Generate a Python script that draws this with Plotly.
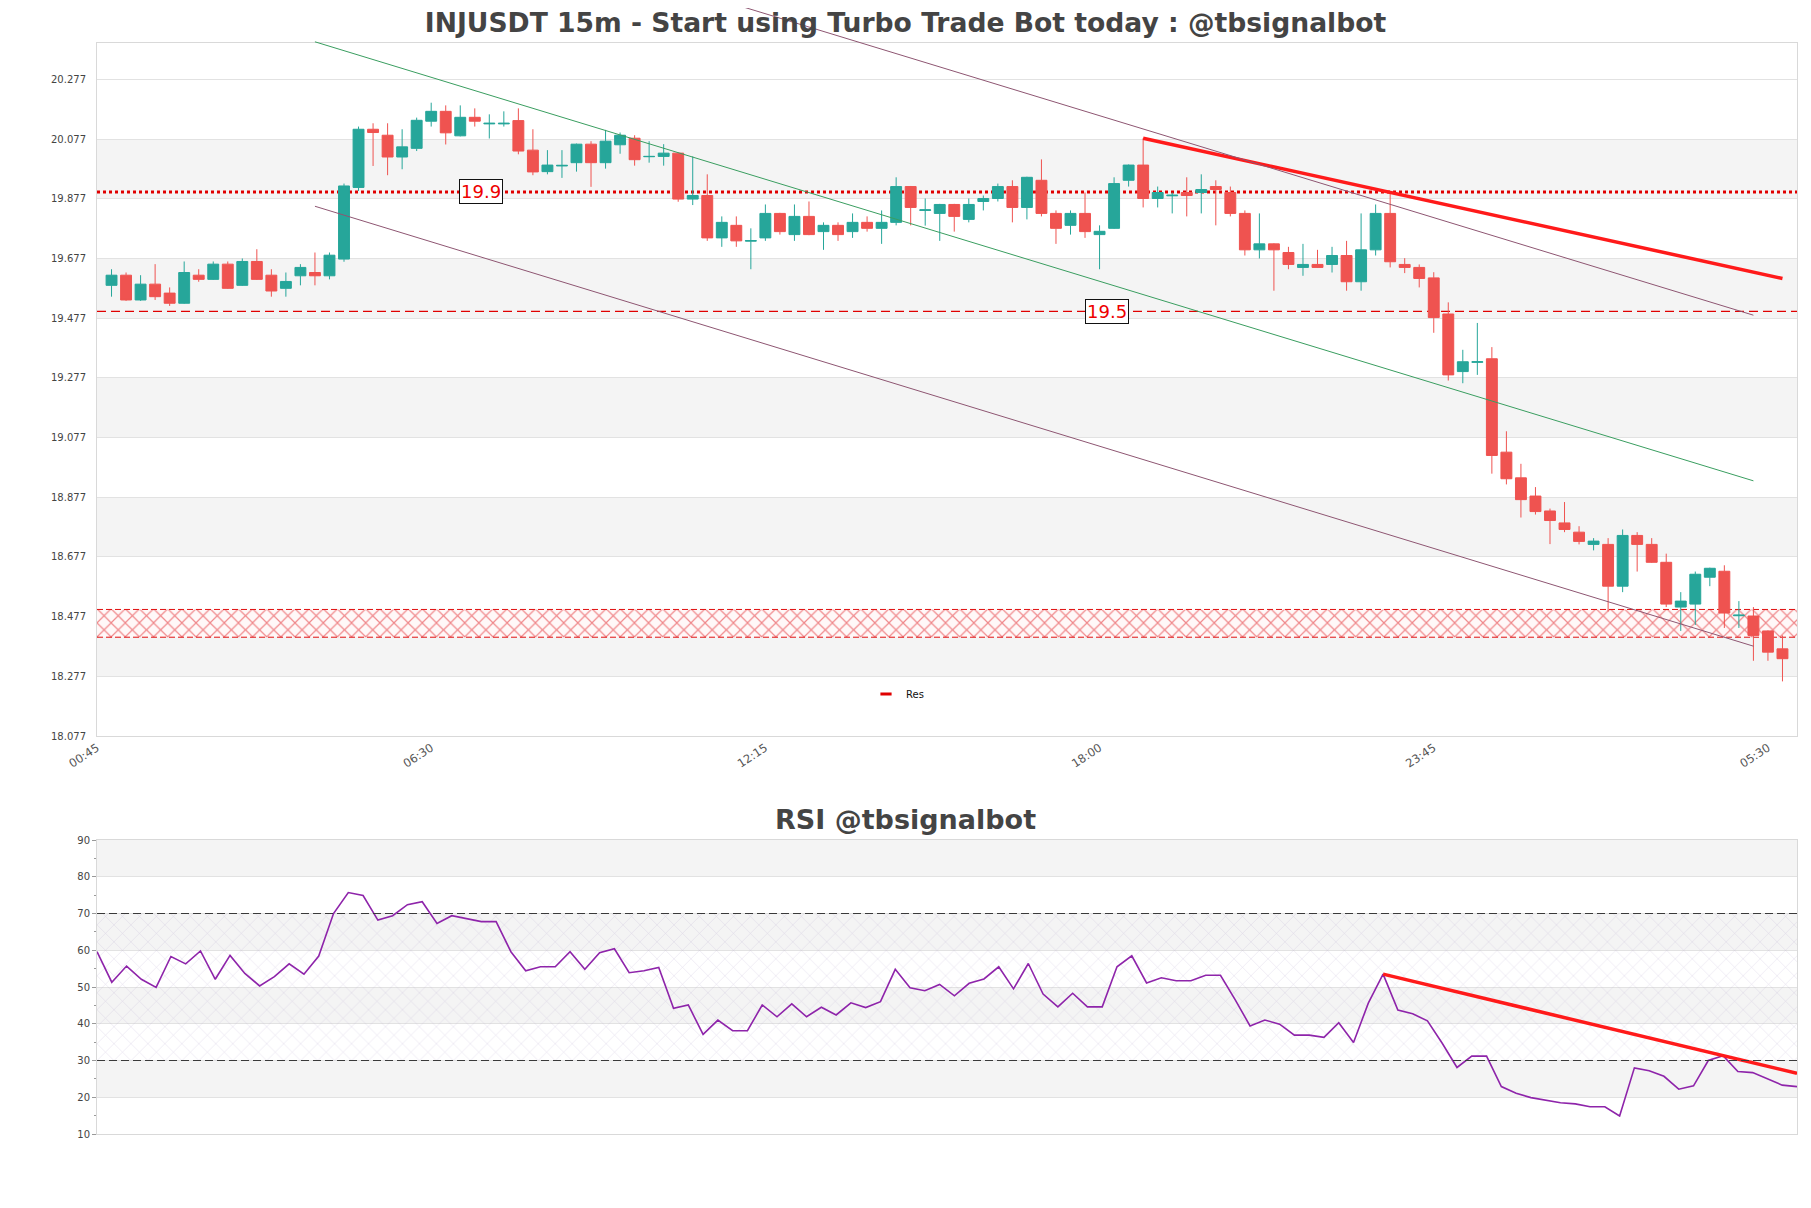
import pandas as pd
import plotly.graph_objects as go

W, H = 1811, 1208

# ---------------- data ----------------
t0 = pd.Timestamp("2024-01-01 01:00")
times = pd.date_range(t0, periods=116, freq="15min")

open_ = [19.587, 19.621, 19.538, 19.591, 19.561, 19.527, 19.621, 19.607, 19.658, 19.587,
         19.667, 19.621, 19.577, 19.619, 19.630, 19.619, 19.675, 19.915, 20.110, 20.090,
         20.017, 20.046, 20.137, 20.170, 20.088, 20.150, 20.128, 20.128, 20.139, 20.040,
         19.968, 19.987, 19.998, 20.060, 19.998, 20.058, 20.080, 20.018, 20.019, 20.030,
         19.876, 19.888, 19.746, 19.788, 19.735, 19.746, 19.828, 19.757, 19.818, 19.767,
         19.788, 19.767, 19.798, 19.778, 19.798, 19.918, 19.838, 19.828, 19.858, 19.808,
         19.868, 19.878, 19.918, 19.848, 19.939, 19.828, 19.788, 19.828, 19.757, 19.778,
         19.939, 19.990, 19.878, 19.887, 19.898, 19.898, 19.918, 19.898, 19.828, 19.706,
         19.726, 19.697, 19.647, 19.657, 19.657, 19.687, 19.599, 19.706, 19.828, 19.657,
         19.647, 19.612, 19.491, 19.298, 19.329, 19.341, 19.028, 18.942, 18.881, 18.831,
         18.791, 18.760, 18.719, 18.719, 18.579, 18.749, 18.719, 18.659, 18.509, 18.519,
         18.609, 18.629, 18.480, 18.479, 18.429, 18.369]
high = [19.641, 19.630, 19.621, 19.658, 19.580, 19.667, 19.641, 19.667, 19.667, 19.677,
        19.708, 19.641, 19.630, 19.658, 19.697, 19.697, 19.928, 20.119, 20.130, 20.130,
        20.110, 20.149, 20.199, 20.190, 20.190, 20.180, 20.160, 20.170, 20.180, 20.110,
        20.040, 20.040, 20.062, 20.070, 20.108, 20.099, 20.090, 20.070, 20.060, 20.032,
        20.019, 19.959, 19.818, 19.818, 19.778, 19.858, 19.830, 19.858, 19.868, 19.798,
        19.798, 19.828, 19.818, 19.838, 19.949, 19.920, 19.878, 19.860, 19.860, 19.878,
        19.888, 19.928, 19.939, 19.951, 20.009, 19.838, 19.838, 19.898, 19.788, 19.949,
        19.992, 20.080, 19.918, 19.898, 19.949, 19.959, 19.939, 19.918, 19.838, 19.828,
        19.728, 19.716, 19.726, 19.706, 19.716, 19.736, 19.828, 19.858, 19.898, 19.678,
        19.657, 19.631, 19.530, 19.371, 19.461, 19.380, 19.098, 18.989, 18.911, 18.839,
        18.861, 18.780, 18.740, 18.740, 18.769, 18.760, 18.740, 18.688, 18.559, 18.628,
        18.641, 18.649, 18.529, 18.509, 18.431, 18.414]
low = [19.549, 19.535, 19.535, 19.538, 19.518, 19.525, 19.599, 19.605, 19.575, 19.585,
       19.605, 19.549, 19.549, 19.587, 19.587, 19.607, 19.666, 19.903, 19.987, 19.956,
       19.976, 20.037, 20.119, 20.059, 20.086, 20.119, 20.079, 20.119, 20.026, 19.956,
       19.959, 19.947, 19.968, 19.917, 19.978, 20.028, 19.988, 19.998, 19.988, 19.867,
       19.856, 19.736, 19.716, 19.716, 19.641, 19.736, 19.757, 19.736, 19.755, 19.706,
       19.736, 19.746, 19.767, 19.726, 19.788, 19.788, 19.787, 19.736, 19.767, 19.798,
       19.838, 19.868, 19.798, 19.808, 19.818, 19.726, 19.757, 19.746, 19.641, 19.776,
       19.918, 19.848, 19.848, 19.828, 19.818, 19.828, 19.788, 19.818, 19.687, 19.677,
       19.569, 19.641, 19.619, 19.645, 19.630, 19.569, 19.569, 19.687, 19.647, 19.628,
       19.580, 19.428, 19.268, 19.259, 19.287, 18.956, 18.920, 18.809, 18.819, 18.720,
       18.760, 18.719, 18.699, 18.494, 18.559, 18.628, 18.657, 18.509, 18.429, 18.449,
       18.579, 18.439, 18.439, 18.329, 18.329, 18.260]
close = [19.621, 19.538, 19.591, 19.549, 19.527, 19.630, 19.607, 19.658, 19.577, 19.667,
         19.607, 19.568, 19.600, 19.647, 19.619, 19.688, 19.920, 20.110, 20.099, 20.017,
         20.051, 20.140, 20.170, 20.098, 20.150, 20.137, 20.130, 20.130, 20.037, 19.967,
         19.990, 19.989, 20.060, 19.998, 20.070, 20.090, 20.008, 20.019, 20.030, 19.876,
         19.888, 19.746, 19.798, 19.736, 19.737, 19.828, 19.767, 19.818, 19.757, 19.788,
         19.757, 19.798, 19.778, 19.798, 19.918, 19.848, 19.840, 19.858, 19.818, 19.858,
         19.878, 19.918, 19.848, 19.949, 19.828, 19.778, 19.828, 19.767, 19.768, 19.928,
         19.990, 19.878, 19.898, 19.889, 19.888, 19.908, 19.908, 19.828, 19.706, 19.726,
         19.706, 19.657, 19.657, 19.647, 19.687, 19.599, 19.706, 19.828, 19.666, 19.647,
         19.610, 19.479, 19.287, 19.331, 19.331, 19.017, 18.939, 18.869, 18.829, 18.799,
         18.769, 18.729, 18.730, 18.579, 18.749, 18.719, 18.659, 18.519, 18.529, 18.619,
         18.639, 18.489, 18.482, 18.414, 18.358, 18.336]

rsi = [59.6, 51.3, 55.7, 52.1, 49.9, 58.3, 56.3, 59.8, 52.1, 58.6,
       53.7, 50.3, 52.8, 56.3, 53.5, 58.4, 70.0, 75.7, 74.9, 68.2,
       69.4, 72.4, 73.2, 67.3, 69.4, 68.7, 67.8, 67.8, 59.6, 54.4,
       55.5, 55.5, 59.6, 54.8, 59.3, 60.4, 53.9, 54.4, 55.3, 44.2,
       45.1, 37.1, 41.0, 38.1, 38.1, 45.1, 41.9, 45.4, 41.9, 44.5,
       42.4, 45.7, 44.4, 46.0, 54.8, 49.8, 49.0, 50.7, 47.6, 51.0,
       52.2, 55.5, 49.5, 56.4, 48.1, 44.6, 48.3, 44.6, 44.6, 55.5,
       58.5, 51.1, 52.5, 51.7, 51.7, 53.2, 53.2, 46.5, 39.4, 41.0,
       39.9, 36.9, 36.9, 36.3, 40.3, 34.9, 45.6, 53.5, 43.7, 42.7,
       40.8, 34.7, 28.1, 31.2, 31.2, 22.9, 21.1, 19.9, 19.1, 18.5,
       18.2, 17.4, 17.4, 14.9, 28.0, 27.2, 25.7, 22.2, 23.1, 30.0,
       31.3, 27.0, 26.7, 24.9, 23.3, 22.9]

x_tick_pos = [-1, 22, 45, 68, 91, 114]          # candle slots
x_tick_labels = ["00:45", "06:30", "12:15", "18:00", "23:45", "05:30"]
y_tick_labels = ["18.077", "18.277", "18.477", "18.677", "18.877", "19.077",
                 "19.277", "19.477", "19.677", "19.877", "20.077", "20.277"]
y_top = 20.399

res_level = 19.9
sup_level = 19.5
level_labels = ["19.9", "19.5"]
level_label_pos = [25.4, 68.5]
zone_low, zone_high = 18.408, 18.501

green_pos, green_val = [14, 113], [20.403, 18.932]
lower_pos, lower_val = [14, 113], [19.852, 18.378]
upper_pos, upper_val = [43.46, 113], [20.520, 19.487]
trend_pos, trend_val = [71, 115], [20.080, 19.610]
rsi_trend_pos, rsi_trend_val = [87, 115], [53.5, 26.5]

rsi_ticks = [10, 20, 30, 40, 50, 60, 70, 80, 90]
rsi_bands = [(20, 30), (40, 50), (60, 70), (80, 90)]

# ---------------- helpers ----------------
def at(pos):
    return t0 + pd.Timedelta(minutes=15 * pos)

FONT = "DejaVu Sans"
UP, DOWN = "#26a69a", "#ef5350"
OFF = 8  # page body margin

def px(v):
    return (v - OFF) / W

def py(v):
    return 1 - (v - OFF) / H

xdom = [px(97), px(1797)]
ydom_main = [py(736), py(43)]
ydom_rsi = [py(1134), py(840)]
y_vals = [float(v) for v in y_tick_labels]
y_lo = y_vals[0]
per_paper = (y_top - y_lo) / (ydom_main[1] - ydom_main[0])
y3_top = y_top + (1 - ydom_main[1]) * per_paper

xr_main = [at(-1), at(116)]
xr_rsi = [times[0], times[-1]]

fig = go.Figure()

# hatched support zone (base subplot, under the candles)
fig.add_trace(go.Scatter(x=xr_main, y=[zone_low, zone_low], mode="lines",
                         line=dict(color="#e01010", width=1, dash="6px,3px"),
                         showlegend=False, hoverinfo="skip", xaxis="x", yaxis="y"))
fig.add_trace(go.Scatter(x=xr_main, y=[zone_high, zone_high], mode="lines",
                         line=dict(color="#e01010", width=1, dash="6px,3px"),
                         fill="tonexty", fillcolor="rgba(255,248,248,1)",
                         fillpattern=dict(shape="x", fgcolor="#e0161c", bgcolor="rgba(255,248,248,1)",
                                          size=10, solidity=0.22),
                         showlegend=False, hoverinfo="skip", xaxis="x", yaxis="y"))

# candles on an overlaying axis so they sit above the zone
fig.add_trace(go.Candlestick(
    x=times, open=open_, high=high, low=low, close=close,
    increasing=dict(line=dict(color=UP, width=1), fillcolor=UP),
    decreasing=dict(line=dict(color=DOWN, width=1), fillcolor=DOWN),
    whiskerwidth=0, showlegend=False, xaxis="x", yaxis="y4", hoverinfo="skip"))

# red falling trendline
fig.add_trace(go.Scatter(x=[at(p) for p in trend_pos], y=trend_val, mode="lines",
                         line=dict(color="#ff1a1a", width=3.5), showlegend=False,
                         hoverinfo="skip", xaxis="x", yaxis="y4"))

# channel lines (unclipped helper axes)
for pos, val, col in [(green_pos, green_val, "#3a9e60"),
                      (lower_pos, lower_val, "#8e5672"),
                      (upper_pos, upper_val, "#8e5672")]:
    fig.add_trace(go.Scatter(x=[at(p) for p in pos], y=val, mode="lines",
                             line=dict(color=col, width=1), showlegend=False,
                             hoverinfo="skip", xaxis="x3", yaxis="y3"))

# legend entry
fig.add_trace(go.Scatter(x=[None], y=[None], mode="markers", name="Res",
                         marker=dict(symbol="line-ew", size=8, color="#e00000",
                                     line=dict(width=3, color="#e00000")),
                         xaxis="x", yaxis="y"))

# RSI hatch 30-70
fig.add_trace(go.Scatter(x=xr_rsi, y=[30, 30], mode="lines", line=dict(width=0),
                         showlegend=False, hoverinfo="skip", xaxis="x2", yaxis="y2"))
fig.add_trace(go.Scatter(x=xr_rsi, y=[70, 70], mode="lines", line=dict(width=0),
                         fill="tonexty", fillcolor="rgba(0,0,0,0)",
                         fillpattern=dict(shape="x", fgcolor="rgba(170,150,195,0.8)",
                                          size=12, solidity=0.07),
                         showlegend=False, hoverinfo="skip", xaxis="x2", yaxis="y2"))
fig.add_trace(go.Scatter(x=times, y=rsi, mode="lines", line=dict(color="#8e24aa", width=1.6),
                         showlegend=False, hoverinfo="skip", xaxis="x2", yaxis="y2"))
fig.add_trace(go.Scatter(x=[times[p] for p in rsi_trend_pos], y=rsi_trend_val, mode="lines",
                         line=dict(color="#ff1a1a", width=3.5), showlegend=False,
                         hoverinfo="skip", xaxis="x2", yaxis="y2"))

shapes = []
for k in range(1, len(y_vals) - 1, 2):
    shapes.append(dict(type="rect", xref="x domain", yref="y", x0=0, x1=1,
                       y0=y_vals[k], y1=y_vals[k + 1], fillcolor="#f4f4f4",
                       line=dict(width=0), layer="below"))
for b0, b1 in rsi_bands:
    shapes.append(dict(type="rect", xref="x2 domain", yref="y2", x0=0, x1=1,
                       y0=b0, y1=b1, fillcolor="#f4f4f4", line=dict(width=0), layer="below"))
shapes.append(dict(type="line", xref="x domain", yref="y", x0=0, x1=1, y0=res_level, y1=res_level,
                   line=dict(color="#e00000", width=3, dash="dot"), layer="below"))
shapes.append(dict(type="line", xref="x domain", yref="y", x0=0, x1=1, y0=sup_level, y1=sup_level,
                   line=dict(color="#e00000", width=1.3, dash="9px,5px"), layer="below"))
for lv in (70, 30):
    shapes.append(dict(type="line", xref="x2 domain", yref="y2", x0=0, x1=1, y0=lv, y1=lv,
                       line=dict(color="#3a3a3a", width=1, dash="8px,4px")))

annotations = []
for txt, p, lv in zip(level_labels, level_label_pos, [res_level, sup_level]):
    annotations.append(dict(x=at(p), y=lv, xref="x", yref="y", text=txt, showarrow=False,
                            font=dict(family=FONT, size=18, color="#ee0000"),
                            bgcolor="white", bordercolor="#111", borderwidth=1, borderpad=1))
annotations.append(dict(x=0.5 - OFF / W, y=py(819), xref="paper", yref="paper",
                        text="RSI @tbsignalbot", showarrow=False,
                        font=dict(family=FONT, size=27, color="#444444", weight="bold"),
                        xanchor="center", yanchor="middle"))

axis_line = "#d9d9d9"
grid = "#e2e2e2"
fig.update_layout(
    width=W, height=H, margin=dict(l=0, r=0, t=0, b=0, autoexpand=False),
    paper_bgcolor="white", plot_bgcolor="rgba(0,0,0,0)",
    font=dict(family=FONT, size=10, color="#444"),
    title=dict(text="INJUSDT 15m - Start using Turbo Trade Bot today : @tbsignalbot",
               x=0.5 - OFF / W, xanchor="center", y=py(23), yanchor="middle", automargin=False,
               font=dict(family=FONT, size=26.6, color="#444444", weight="bold")),
    boxgap=0.25, boxgroupgap=0,
    showlegend=True,
    legend=dict(orientation="h", x=px(866), y=py(694), xanchor="left", yanchor="middle",
                bgcolor="rgba(0,0,0,0)", font=dict(family=FONT, size=10, color="#111"),
                itemwidth=30),
    xaxis=dict(domain=xdom, anchor="y", type="date", range=xr_main, automargin=False,
               tickvals=[at(p) for p in x_tick_pos], ticktext=x_tick_labels,
               tickangle=-33, tickfont=dict(size=11.5, color="#555"),
               showgrid=False, showline=True, linecolor=axis_line, mirror=True,
               rangeslider=dict(visible=False), zeroline=False),
    yaxis=dict(domain=ydom_main, anchor="x", range=[y_lo, y_top], automargin=False,
               tickvals=y_vals, ticktext=y_tick_labels, tickfont=dict(size=10, color="#444"),
               showgrid=True, gridcolor=grid, showline=True, linecolor=axis_line, mirror=True,
               zeroline=False, ticklabelstandoff=8),
    yaxis4=dict(overlaying="y", anchor="x", range=[y_lo, y_top], visible=False,
                automargin=False),
    xaxis3=dict(domain=xdom, anchor="y3", type="date", range=xr_main, visible=False,
                automargin=False),
    yaxis3=dict(domain=[ydom_main[0], 1], anchor="x3", range=[y_lo, y3_top], visible=False,
                automargin=False),
    xaxis2=dict(domain=xdom, anchor="y2", type="date", range=xr_rsi, showticklabels=False,
                automargin=False,
                showgrid=False, showline=True, linecolor=axis_line, mirror=True, zeroline=False),
    yaxis2=dict(domain=ydom_rsi, anchor="x2", range=[10, 90], tickvals=rsi_ticks,
                automargin=False,
                tickfont=dict(size=10, color="#444"), ticks="outside", ticklen=4,
                tickcolor="#999", minor=dict(ticks="outside", ticklen=2, dtick=5, tickcolor="#999"),
                showgrid=True, gridcolor=grid, showline=True, linecolor=axis_line, mirror=True,
                zeroline=False),
    shapes=shapes, annotations=annotations,
)

fig.write_html("out.html", config={"displayModeBar": False})
